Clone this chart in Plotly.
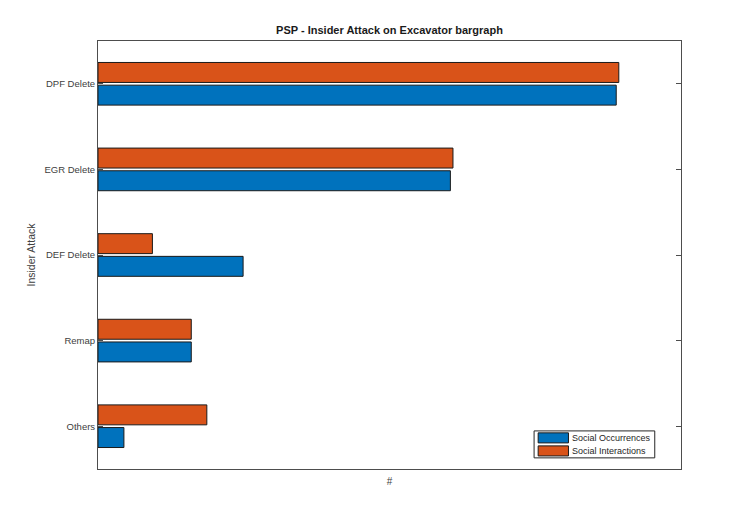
import plotly.graph_objects as go

# categories listed bottom-up so the first trace sits below the second in each group
attacks = ['Others', 'Remap', 'DEF Delete', 'EGR Delete', 'DPF Delete']
social_occurrences = [10, 36, 56, 136, 200]
social_interactions = [42, 36, 21, 137, 201]
series_names = ['Social Occurrences', 'Social Interactions']

blue = '#0072BD'
orange = '#D95319'
edge = '#1a1a1a'

fig = go.Figure()
fig.add_trace(go.Bar(y=attacks, x=social_occurrences, orientation='h',
                     name=series_names[0], marker_color=blue,
                     marker_line=dict(color=edge, width=1)))
fig.add_trace(go.Bar(y=attacks, x=social_interactions, orientation='h',
                     name=series_names[1], marker_color=orange,
                     marker_line=dict(color=edge, width=1)))

# matlab-style compact legend box, drawn in paper coords
shapes = [dict(type='rect', xref='paper', yref='paper', x0=0.748, x1=0.955,
               y0=0.026, y1=0.089, line=dict(color='#262626', width=1),
               fillcolor='white', layer='above')]
annotations = []
for i, (name, col) in enumerate(zip(series_names, [blue, orange])):
    y0 = 0.061 - i * 0.0305
    shapes.append(dict(type='rect', xref='paper', yref='paper', x0=0.755, x1=0.807,
                       y0=y0, y1=y0 + 0.0235, fillcolor=col,
                       line=dict(color=edge, width=1), layer='above'))
    annotations.append(dict(text=name, xref='paper', yref='paper', x=0.809,
                            y=y0 + 0.012, xanchor='left', yanchor='middle',
                            showarrow=False, font=dict(size=9, color='#262626')))

fig.update_layout(
    width=747, height=527,
    margin=dict(l=90, r=74, t=33, b=66),
    paper_bgcolor='white', plot_bgcolor='white',
    barmode='group', bargap=0.47, bargroupgap=0.12,
    font=dict(family='Liberation Sans, Arial, sans-serif', size=10, color='#404040'),
    title=dict(text='<b>PSP - Insider Attack on Excavator bargraph</b>',
               x=0.5, xanchor='center', xref='paper', y=0.958, yanchor='middle',
               font=dict(size=11, color='#1a1a1a')),
    showlegend=False,
    shapes=shapes,
    annotations=annotations,
)
fig.update_xaxes(range=[0, 225], showticklabels=False, ticks='',
                 showgrid=False, zeroline=False,
                 showline=True, linecolor='#4d4d4d', linewidth=1, mirror=True,
                 title=dict(text='#', standoff=8, font=dict(size=10, color='#404040')))
fig.update_yaxes(categoryorder='array', categoryarray=attacks,
                 range=[-0.5, 4.5], showgrid=False, zeroline=False,
                 showline=True, linecolor='#4d4d4d', linewidth=1, mirror='ticks',
                 ticks='inside', ticklen=5, tickcolor='#4d4d4d',
                 tickfont=dict(size=9.5, color='#404040'),
                 title=dict(text='Insider Attack', standoff=6,
                            font=dict(size=10.5, color='#404040')))

fig.write_html('out.html')
